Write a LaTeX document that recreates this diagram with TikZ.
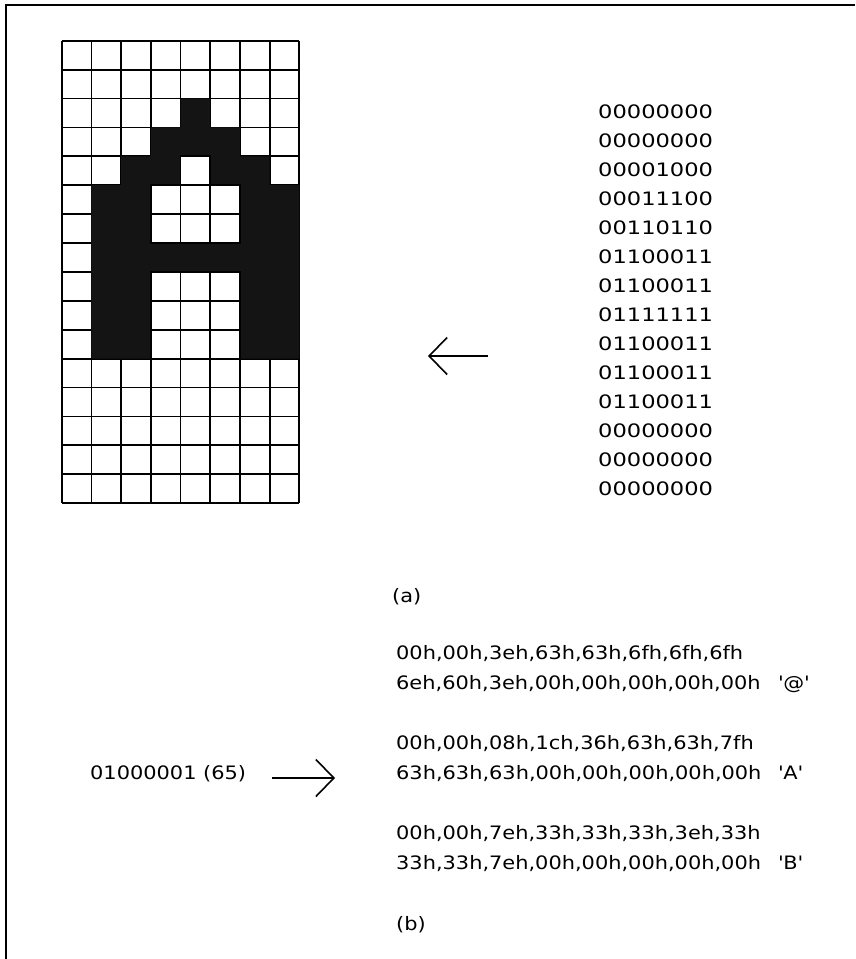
\documentclass[tikz,border=0pt]{standalone}
\usepackage{fontspec}
\usetikzlibrary{arrows.meta}
\newfontfamily\hexfont{DejaVu Sans}[FakeStretch=1.13]
\newfontfamily\bitfont{DejaVu Sans}[FakeStretch=1.22]

\begin{document}
\begin{tikzpicture}[x=1pt,y=-1pt,
    txt/.style={inner sep=0pt,anchor=base west,font=\hexfont\fontsize{18.5}{20}\selectfont},
    bit/.style={txt,font=\bitfont\fontsize{18.5}{20}\selectfont},
    ptr/.style={line width=1.6pt,-{Straight Barb[length=18pt,width=37pt]}}]
  \useasboundingbox (0,0) rectangle (855,959);
  % frame
  \draw[line width=1.8pt] (855,5) -- (6,5) -- (6,959);

  % 8x16 cell grid with the letter A
  \begin{scope}[shift={(61.7,40.7)},x=29.7pt,y=-28.9pt]
    \foreach \i in {0,...,8}
      \draw[line width=1.8pt] (\i,0) -- (\i,16);
    \foreach \j in {0,...,16}
      \draw[line width=1.8pt] (0,\j) -- (8,\j);
    \fill[black!92] (4,2) rectangle (5,3) (3,3) rectangle (6,4)
      (2,4) rectangle (4,5) (5,4) rectangle (7,5)
      (1,5) rectangle (3,11) (6,5) rectangle (8,11) (3,7) rectangle (6,8);
    % white cells inside the letter
    \foreach \c/\r in {4/4,3/5,4/5,5/5,3/6,4/6,5/6,3/8,4/8,5/8,3/9,4/9,5/9,3/10,4/10,5/10}
      \draw[line width=1.8pt] (\c,\r) rectangle +(1,1);
  \end{scope}

  % bit rows
  \foreach \bits [count=\k from 0] in {00000000,00000000,00001000,00011100,
      00110110,01100011,01100011,01111111,01100011,01100011,01100011,
      00000000,00000000,00000000}
    \node[bit] (row\k) at (598,{118.4+29.02*\k}) {\bits};
  \coordinate (bitstail) at (488,356);
  \coordinate (gridtip) at (428,356);
  \draw[ptr] (bitstail) -- (gridtip);
  \node[txt] (capa) at (392,602) {(a)};

  % font table
  \node[txt] (at1) at (396,659) {00h,00h,3eh,63h,63h,6fh,6fh,6fh};
  \node[txt] (at2) at (396,689) {6eh,60h,3eh,00h,00h,00h,00h,00h};
  \node[txt] (atname) at (778,689) {\textquotesingle @\textquotesingle};
  \node[txt] (a1) at (396,749) {00h,00h,08h,1ch,36h,63h,63h,7fh};
  \node[txt] (a2) at (396,779) {63h,63h,63h,00h,00h,00h,00h,00h};
  \node[txt] (aname) at (778,779) {\textquotesingle A\textquotesingle};
  \node[txt] (b1) at (396,839) {00h,00h,7eh,33h,33h,33h,3eh,33h};
  \node[txt] (b2) at (396,869) {33h,33h,7eh,00h,00h,00h,00h,00h};
  \node[txt] (bname) at (778,869) {\textquotesingle B\textquotesingle};
  \node[txt] (capb) at (396,930) {(b)};

  % character code
  \node[txt] (code) at (90,779) {01000001 (65)};
  \coordinate (codetail) at (272,778);
  \coordinate (codetip) at (335,778);
  \draw[ptr] (codetail) -- (codetip);
\end{tikzpicture}
\end{document}
